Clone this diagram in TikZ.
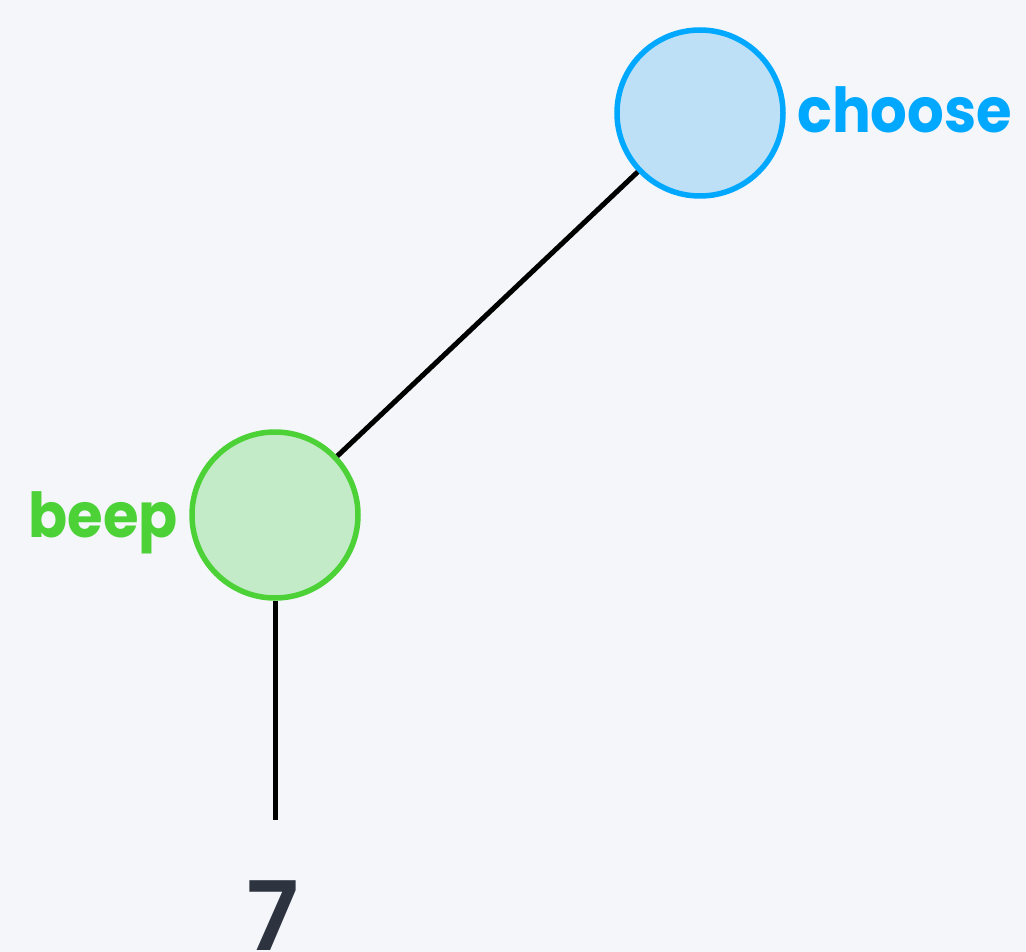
\documentclass[tikz,border=0pt]{standalone}
\usepackage{fontspec}
\setmainfont{Poppins}
\newfontfamily\lblfont{Poppins}[FakeStretch=0.93]
\newfontfamily\numfont{Poppins}[UprightFont=*-SemiBold]
\usepackage{tikz}
\usetikzlibrary{positioning}

\definecolor{bgcol}{HTML}{F4F6FA}
\definecolor{chooseline}{HTML}{00A8FF}
\definecolor{choosefill}{HTML}{BDE0F7}
\definecolor{beepline}{HTML}{4CD137}
\definecolor{beepfill}{HTML}{C3EBC8}
\definecolor{leafcol}{HTML}{2D3440}

\tikzset{
  treenode/.style={circle, line width=5.5pt, minimum size=166pt, inner sep=0pt},
  edge/.style={black, line width=5pt},
  lbl/.style={font=\fontsize{62}{62}\lblfont\bfseries, inner sep=0pt}
}

\begin{document}
\begin{tikzpicture}[x=1pt,y=-1pt]
\fill[bgcol] (0,0) rectangle (1026,952);
\useasboundingbox (0,0) rectangle (1026,952);
\node[treenode, draw=chooseline, fill=choosefill] (choose) at (700,113) {};
\node[treenode, draw=beepline, fill=beepfill] (beep) at (275,515) {};
\node[lbl, text=chooseline, anchor=base west] (chooselbl) at (797,133) {choose};
\node[lbl, text=beepline, anchor=base east] (beeplbl) at (178,537) {beep};
\coordinate (leaftop) at (275,820);
\node[font=\fontsize{96}{96}\numfont, text=leafcol, anchor=base, inner sep=0pt] (leaf) at (273,950) {7};
\draw[edge] (choose) -- (beep);
\draw[edge] (beep) -- (leaftop);
\end{tikzpicture}
\end{document}
